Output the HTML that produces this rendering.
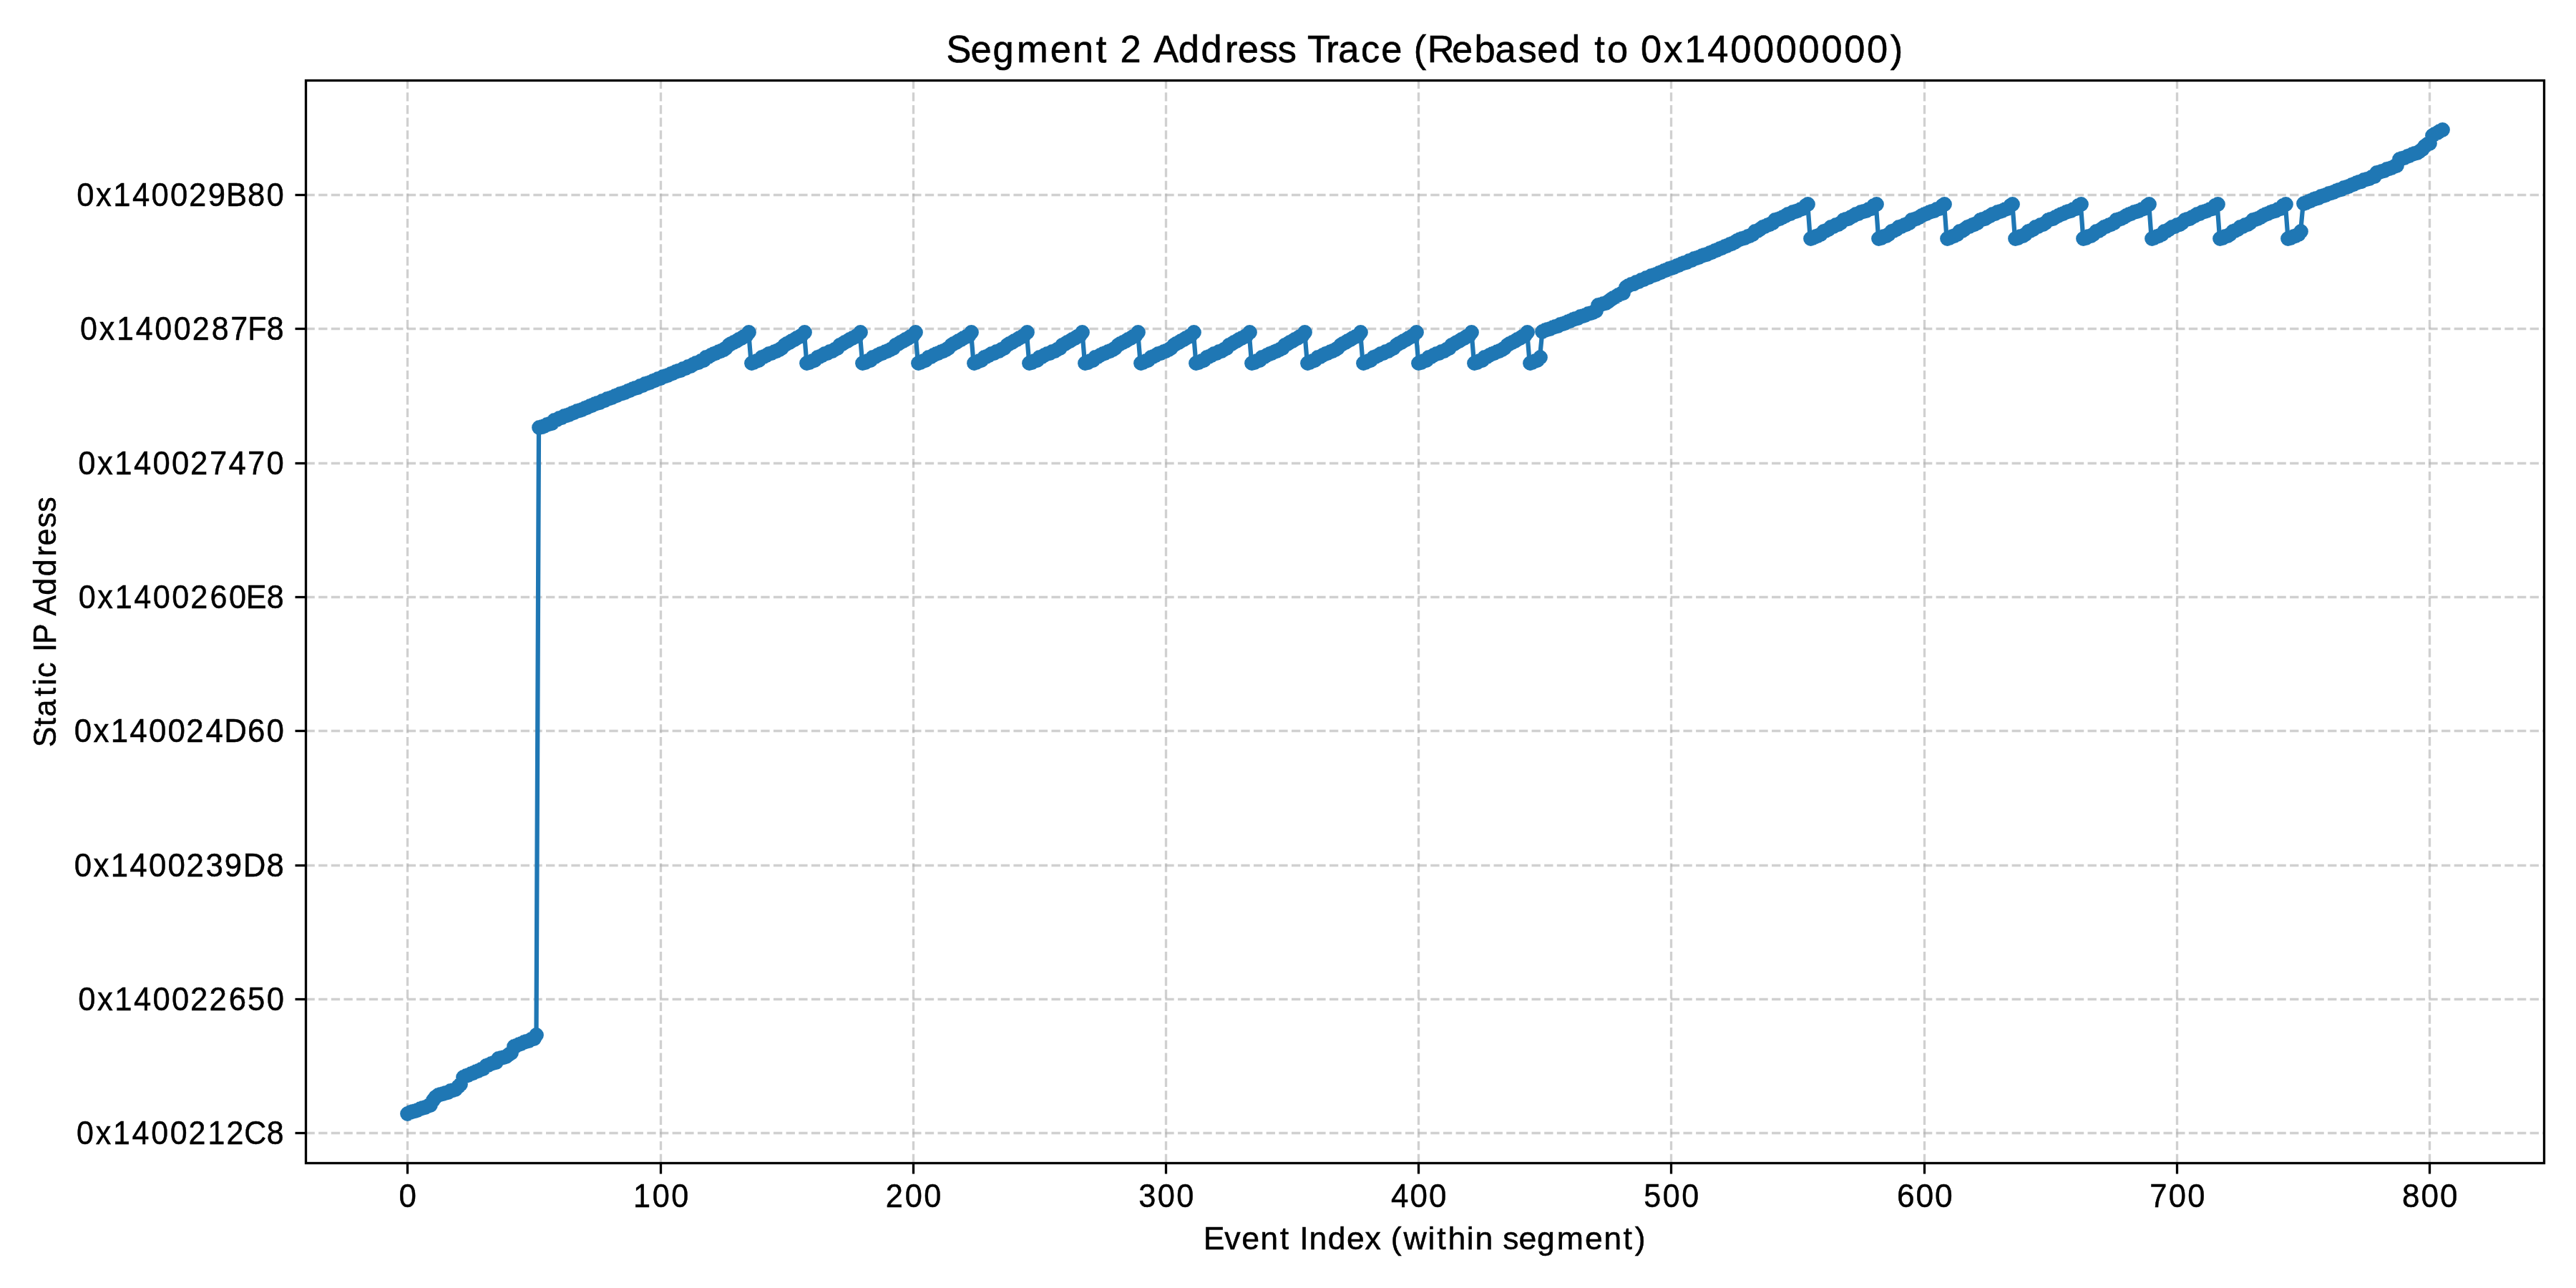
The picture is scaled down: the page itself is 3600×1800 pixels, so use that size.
<!DOCTYPE html>
<html><head><meta charset="utf-8"><title>Segment 2 Address Trace</title>
<style>html,body{margin:0;padding:0;background:#fff}body{width:3600px;height:1800px;overflow:hidden}svg{display:block;will-change:transform}text{font-family:"Liberation Sans",sans-serif;fill:#000}</style></head>
<body>
<svg width="3600" height="1800" viewBox="0 0 3600 1800">
<rect width="3600" height="1800" fill="#fff"/>
<g stroke="#b0b0b0" stroke-opacity="0.6" stroke-width="3.33" stroke-dasharray="12.33 5.33" fill="none">
<path d="M569.50 1625.00V112.50"/>
<path d="M923.50 1625.00V112.50"/>
<path d="M1276.50 1625.00V112.50"/>
<path d="M1629.50 1625.00V112.50"/>
<path d="M1982.50 1625.00V112.50"/>
<path d="M2335.50 1625.00V112.50"/>
<path d="M2689.50 1625.00V112.50"/>
<path d="M3042.50 1625.00V112.50"/>
<path d="M3395.50 1625.00V112.50"/>
<path d="M427.50 1583.50H3555.50"/>
<path d="M427.50 1396.50H3555.50"/>
<path d="M427.50 1209.50H3555.50"/>
<path d="M427.50 1021.50H3555.50"/>
<path d="M427.50 834.50H3555.50"/>
<path d="M427.50 647.50H3555.50"/>
<path d="M427.50 459.50H3555.50"/>
<path d="M427.50 272.50H3555.50"/>
</g>
<path d="M569.3 1556.3 L572.8 1555.0 L576.4 1553.7 L579.9 1552.4 L583.4 1551.1 L587.0 1549.7 L590.5 1548.4 L594.0 1547.1 L597.6 1545.8 L601.1 1544.5 L604.6 1537.0 L608.2 1533.1 L611.7 1530.8 L615.2 1529.6 L618.8 1528.5 L622.3 1527.3 L625.8 1526.1 L629.4 1524.9 L632.9 1523.8 L636.4 1522.6 L639.9 1518.7 L643.5 1515.8 L647.0 1505.3 L650.5 1503.8 L654.1 1502.3 L657.6 1500.8 L661.1 1499.2 L664.7 1497.7 L668.2 1496.2 L671.7 1494.7 L675.3 1493.2 L678.8 1489.3 L682.3 1488.0 L685.9 1486.7 L689.4 1485.4 L692.9 1484.1 L696.5 1479.8 L700.0 1478.6 L703.5 1477.5 L707.1 1476.3 L710.6 1473.6 L714.1 1471.4 L717.7 1462.4 L721.2 1461.0 L724.7 1459.7 L728.3 1458.3 L731.8 1457.0 L735.3 1455.6 L738.9 1454.2 L742.4 1452.9 L745.9 1451.5 L749.5 1446.7 L753.0 597.8 L756.5 596.4 L760.1 595.1 L763.6 593.7 L767.1 592.4 L770.7 591.0 L774.2 587.5 L777.7 586.1 L781.2 584.7 L784.8 583.3 L788.3 581.9 L791.8 580.5 L795.4 579.1 L798.9 577.6 L802.4 576.2 L806.0 574.8 L809.5 573.4 L813.0 572.0 L816.6 570.6 L820.1 569.2 L823.6 567.8 L827.2 566.4 L830.7 565.0 L834.2 563.6 L837.8 562.2 L841.3 560.8 L844.8 559.4 L848.4 557.9 L851.9 556.5 L855.4 555.1 L859.0 553.7 L862.5 552.3 L866.0 550.9 L869.6 549.5 L873.1 548.1 L876.6 546.7 L880.2 545.3 L883.7 543.9 L887.2 542.5 L890.8 541.1 L894.3 539.6 L897.8 538.2 L901.4 536.8 L904.9 535.4 L908.4 534.0 L912.0 532.6 L915.5 531.2 L919.0 529.8 L922.5 528.4 L926.1 527.0 L929.6 525.6 L933.1 524.2 L936.7 522.8 L940.2 521.4 L943.7 519.9 L947.3 518.5 L950.8 517.1 L954.3 515.7 L957.9 514.3 L961.4 512.9 L964.9 511.5 L968.5 509.8 L972.0 507.8 L975.5 506.3 L979.1 504.8 L982.6 503.1 L986.1 499.6 L989.7 498.1 L993.2 496.5 L996.7 494.9 L1000.3 493.3 L1003.8 491.7 L1007.3 490.1 L1010.9 488.5 L1014.4 486.6 L1017.9 482.0 L1021.5 480.0 L1025.0 478.3 L1028.5 476.5 L1032.1 474.7 L1035.6 472.9 L1039.1 470.9 L1042.7 468.3 L1046.2 464.6 L1049.7 507.8 L1053.3 506.3 L1056.8 504.8 L1060.3 503.1 L1063.8 499.6 L1067.4 498.1 L1070.9 496.5 L1074.4 494.9 L1078.0 493.3 L1081.5 491.7 L1085.0 490.1 L1088.6 488.5 L1092.1 486.6 L1095.6 482.0 L1099.2 480.0 L1102.7 478.3 L1106.2 476.5 L1109.8 474.7 L1113.3 472.9 L1116.8 470.9 L1120.4 468.3 L1123.9 464.6 L1127.4 507.8 L1131.0 506.3 L1134.5 504.8 L1138.0 503.1 L1141.6 499.6 L1145.1 498.1 L1148.6 496.5 L1152.2 494.9 L1155.7 493.3 L1159.2 491.7 L1162.8 490.1 L1166.3 488.5 L1169.8 486.6 L1173.4 482.0 L1176.9 480.0 L1180.4 478.3 L1184.0 476.5 L1187.5 474.7 L1191.0 472.9 L1194.6 470.9 L1198.1 468.3 L1201.6 464.6 L1205.2 507.8 L1208.7 506.3 L1212.2 504.8 L1215.7 503.1 L1219.3 499.6 L1222.8 498.1 L1226.3 496.5 L1229.9 494.9 L1233.4 493.3 L1236.9 491.7 L1240.5 490.1 L1244.0 488.5 L1247.5 486.6 L1251.1 482.0 L1254.6 480.0 L1258.1 478.3 L1261.7 476.5 L1265.2 474.7 L1268.7 472.9 L1272.3 470.9 L1275.8 468.3 L1279.3 464.6 L1282.9 507.8 L1286.4 506.3 L1289.9 504.8 L1293.5 503.1 L1297.0 499.6 L1300.5 498.1 L1304.1 496.5 L1307.6 494.9 L1311.1 493.3 L1314.7 491.7 L1318.2 490.1 L1321.7 488.5 L1325.3 486.6 L1328.8 482.0 L1332.3 480.0 L1335.9 478.3 L1339.4 476.5 L1342.9 474.7 L1346.5 472.9 L1350.0 470.9 L1353.5 468.3 L1357.0 464.6 L1360.6 507.8 L1364.1 506.3 L1367.6 504.8 L1371.2 503.1 L1374.7 499.6 L1378.2 498.1 L1381.8 496.5 L1385.3 494.9 L1388.8 493.3 L1392.4 491.7 L1395.9 490.1 L1399.4 488.5 L1403.0 486.6 L1406.5 482.0 L1410.0 480.0 L1413.6 478.3 L1417.1 476.5 L1420.6 474.7 L1424.2 472.9 L1427.7 470.9 L1431.2 468.3 L1434.8 464.6 L1438.3 507.8 L1441.8 506.3 L1445.4 504.8 L1448.9 503.1 L1452.4 499.6 L1456.0 498.1 L1459.5 496.5 L1463.0 494.9 L1466.6 493.3 L1470.1 491.7 L1473.6 490.1 L1477.2 488.5 L1480.7 486.6 L1484.2 482.0 L1487.8 480.0 L1491.3 478.3 L1494.8 476.5 L1498.3 474.7 L1501.9 472.9 L1505.4 470.9 L1508.9 468.3 L1512.5 464.6 L1516.0 507.8 L1519.5 506.3 L1523.1 504.8 L1526.6 503.1 L1530.1 499.6 L1533.7 498.1 L1537.2 496.5 L1540.7 494.9 L1544.3 493.3 L1547.8 491.7 L1551.3 490.1 L1554.9 488.5 L1558.4 486.6 L1561.9 482.0 L1565.5 480.0 L1569.0 478.3 L1572.5 476.5 L1576.1 474.7 L1579.6 472.9 L1583.1 470.9 L1586.7 468.3 L1590.2 464.6 L1593.7 507.8 L1597.3 506.3 L1600.8 504.8 L1604.3 503.1 L1607.9 499.6 L1611.4 498.1 L1614.9 496.5 L1618.5 494.9 L1622.0 493.3 L1625.5 491.7 L1629.0 490.1 L1632.6 488.5 L1636.1 486.6 L1639.6 482.0 L1643.2 480.0 L1646.7 478.3 L1650.2 476.5 L1653.8 474.7 L1657.3 472.9 L1660.8 470.9 L1664.4 468.3 L1667.9 464.6 L1671.4 507.8 L1675.0 506.3 L1678.5 504.8 L1682.0 503.1 L1685.6 499.6 L1689.1 498.1 L1692.6 496.5 L1696.2 494.9 L1699.7 493.3 L1703.2 491.7 L1706.8 490.1 L1710.3 488.5 L1713.8 486.6 L1717.4 482.0 L1720.9 480.0 L1724.4 478.3 L1728.0 476.5 L1731.5 474.7 L1735.0 472.9 L1738.6 470.9 L1742.1 468.3 L1745.6 464.6 L1749.2 507.8 L1752.7 506.3 L1756.2 504.8 L1759.8 503.1 L1763.3 499.6 L1766.8 498.1 L1770.3 496.5 L1773.9 494.9 L1777.4 493.3 L1780.9 491.7 L1784.5 490.1 L1788.0 488.5 L1791.5 486.6 L1795.1 482.0 L1798.6 480.0 L1802.1 478.3 L1805.7 476.5 L1809.2 474.7 L1812.7 472.9 L1816.3 470.9 L1819.8 468.3 L1823.3 464.6 L1826.9 507.8 L1830.4 506.3 L1833.9 504.8 L1837.5 503.1 L1841.0 499.6 L1844.5 498.1 L1848.1 496.5 L1851.6 494.9 L1855.1 493.3 L1858.7 491.7 L1862.2 490.1 L1865.7 488.5 L1869.3 486.6 L1872.8 482.0 L1876.3 480.0 L1879.9 478.3 L1883.4 476.5 L1886.9 474.7 L1890.5 472.9 L1894.0 470.9 L1897.5 468.3 L1901.1 464.6 L1904.6 507.8 L1908.1 506.3 L1911.7 504.8 L1915.2 503.1 L1918.7 499.6 L1922.2 498.1 L1925.8 496.5 L1929.3 494.9 L1932.8 493.3 L1936.4 491.7 L1939.9 490.1 L1943.4 488.5 L1947.0 486.6 L1950.5 482.0 L1954.0 480.0 L1957.6 478.3 L1961.1 476.5 L1964.6 474.7 L1968.2 472.9 L1971.7 470.9 L1975.2 468.3 L1978.8 464.6 L1982.3 507.8 L1985.8 506.3 L1989.4 504.8 L1992.9 503.1 L1996.4 499.6 L2000.0 498.1 L2003.5 496.5 L2007.0 494.9 L2010.6 493.3 L2014.1 491.7 L2017.6 490.1 L2021.2 488.5 L2024.7 486.6 L2028.2 482.0 L2031.8 480.0 L2035.3 478.3 L2038.8 476.5 L2042.4 474.7 L2045.9 472.9 L2049.4 470.9 L2052.9 468.3 L2056.5 464.6 L2060.0 507.8 L2063.5 506.3 L2067.1 504.8 L2070.6 503.1 L2074.1 499.6 L2077.7 498.1 L2081.2 496.5 L2084.7 494.9 L2088.3 493.3 L2091.8 491.7 L2095.3 490.1 L2098.9 488.5 L2102.4 486.6 L2105.9 482.0 L2109.5 480.0 L2113.0 478.3 L2116.5 476.5 L2120.1 474.7 L2123.6 472.9 L2127.1 470.9 L2130.7 468.3 L2134.2 464.6 L2137.7 507.8 L2141.3 506.3 L2144.8 504.8 L2148.3 503.1 L2151.9 499.6 L2155.4 463.1 L2158.9 461.8 L2162.5 460.4 L2166.0 459.1 L2169.5 457.7 L2173.1 456.4 L2176.6 455.0 L2180.1 453.7 L2183.7 452.4 L2187.2 451.0 L2190.7 449.7 L2194.2 448.3 L2197.8 447.0 L2201.3 445.6 L2204.8 444.3 L2208.4 443.0 L2211.9 441.6 L2215.4 440.3 L2219.0 438.9 L2222.5 437.6 L2226.0 436.2 L2229.6 434.9 L2233.1 426.2 L2236.6 425.4 L2240.2 424.5 L2243.7 423.0 L2247.2 421.3 L2250.8 418.5 L2254.3 416.0 L2257.8 414.0 L2261.4 412.2 L2264.9 410.8 L2268.4 409.5 L2272.0 401.0 L2275.5 399.2 L2279.0 397.5 L2282.6 396.1 L2286.1 394.6 L2289.6 393.2 L2293.2 391.7 L2296.7 390.3 L2300.2 388.8 L2303.8 387.4 L2307.3 385.9 L2310.8 384.5 L2314.4 383.1 L2317.9 381.6 L2321.4 380.2 L2325.0 378.7 L2328.5 377.3 L2332.0 375.8 L2335.6 374.4 L2339.1 373.0 L2342.6 371.6 L2346.1 370.2 L2349.7 368.8 L2353.2 367.5 L2356.7 366.1 L2360.3 364.7 L2363.8 363.3 L2367.3 361.9 L2370.9 360.5 L2374.4 359.1 L2377.9 357.7 L2381.5 356.4 L2385.0 355.0 L2388.5 353.7 L2392.1 352.2 L2395.6 350.7 L2399.1 349.3 L2402.7 347.8 L2406.2 346.3 L2409.7 344.8 L2413.3 343.3 L2416.8 341.9 L2420.3 340.4 L2423.9 338.9 L2427.4 336.6 L2430.9 334.9 L2434.5 333.5 L2438.0 332.2 L2441.5 330.8 L2445.1 329.5 L2448.6 327.6 L2452.1 323.8 L2455.7 322.1 L2459.2 320.2 L2462.7 317.7 L2466.3 316.2 L2469.8 314.8 L2473.3 313.3 L2476.9 311.6 L2480.4 307.7 L2483.9 306.3 L2487.4 305.0 L2491.0 303.6 L2494.5 301.9 L2498.0 299.3 L2501.6 298.2 L2505.1 296.9 L2508.6 295.4 L2512.2 294.0 L2515.7 292.6 L2519.2 291.2 L2522.8 287.5 L2526.3 285.4 L2529.8 333.5 L2533.4 332.2 L2536.9 330.8 L2540.4 329.5 L2544.0 327.6 L2547.5 323.8 L2551.0 322.1 L2554.6 320.2 L2558.1 317.7 L2561.6 316.2 L2565.2 314.8 L2568.7 313.3 L2572.2 311.6 L2575.8 307.7 L2579.3 306.3 L2582.8 305.0 L2586.4 303.6 L2589.9 301.9 L2593.4 299.3 L2597.0 298.2 L2600.5 296.9 L2604.0 295.4 L2607.6 294.0 L2611.1 292.6 L2614.6 291.2 L2618.1 287.5 L2621.7 285.4 L2625.2 333.5 L2628.7 332.2 L2632.3 330.8 L2635.8 329.5 L2639.3 327.6 L2642.9 323.8 L2646.4 322.1 L2649.9 320.2 L2653.5 317.7 L2657.0 316.2 L2660.5 314.8 L2664.1 313.3 L2667.6 311.6 L2671.1 307.7 L2674.7 306.3 L2678.2 305.0 L2681.7 303.6 L2685.3 301.9 L2688.8 299.3 L2692.3 298.2 L2695.9 296.9 L2699.4 295.4 L2702.9 294.0 L2706.5 292.6 L2710.0 291.2 L2713.5 287.5 L2717.1 285.4 L2720.6 333.5 L2724.1 332.2 L2727.7 330.8 L2731.2 329.5 L2734.7 327.6 L2738.3 323.8 L2741.8 322.1 L2745.3 320.2 L2748.9 317.7 L2752.4 316.2 L2755.9 314.8 L2759.4 313.3 L2763.0 311.6 L2766.5 307.7 L2770.0 306.3 L2773.6 305.0 L2777.1 303.6 L2780.6 301.9 L2784.2 299.3 L2787.7 298.2 L2791.2 296.9 L2794.8 295.4 L2798.3 294.0 L2801.8 292.6 L2805.4 291.2 L2808.9 287.5 L2812.4 285.4 L2816.0 333.5 L2819.5 332.2 L2823.0 330.8 L2826.6 329.5 L2830.1 327.6 L2833.6 323.8 L2837.2 322.1 L2840.7 320.2 L2844.2 317.7 L2847.8 316.2 L2851.3 314.8 L2854.8 313.3 L2858.4 311.6 L2861.9 307.7 L2865.4 306.3 L2869.0 305.0 L2872.5 303.6 L2876.0 301.9 L2879.6 299.3 L2883.1 298.2 L2886.6 296.9 L2890.2 295.4 L2893.7 294.0 L2897.2 292.6 L2900.8 291.2 L2904.3 287.5 L2907.8 285.4 L2911.3 333.5 L2914.9 332.2 L2918.4 330.8 L2921.9 329.5 L2925.5 327.6 L2929.0 323.8 L2932.5 322.1 L2936.1 320.2 L2939.6 317.7 L2943.1 316.2 L2946.7 314.8 L2950.2 313.3 L2953.7 311.6 L2957.3 307.7 L2960.8 306.3 L2964.3 305.0 L2967.9 303.6 L2971.4 301.9 L2974.9 299.3 L2978.5 298.2 L2982.0 296.9 L2985.5 295.4 L2989.1 294.0 L2992.6 292.6 L2996.1 291.2 L2999.7 287.5 L3003.2 285.4 L3006.7 333.5 L3010.3 332.2 L3013.8 330.8 L3017.3 329.5 L3020.9 327.6 L3024.4 323.8 L3027.9 322.1 L3031.5 320.2 L3035.0 317.7 L3038.5 316.2 L3042.1 314.8 L3045.6 313.3 L3049.1 311.6 L3052.6 307.7 L3056.2 306.3 L3059.7 305.0 L3063.2 303.6 L3066.8 301.9 L3070.3 299.3 L3073.8 298.2 L3077.4 296.9 L3080.9 295.4 L3084.4 294.0 L3088.0 292.6 L3091.5 291.2 L3095.0 287.5 L3098.6 285.4 L3102.1 333.5 L3105.6 332.2 L3109.2 330.8 L3112.7 329.5 L3116.2 327.6 L3119.8 323.8 L3123.3 322.1 L3126.8 320.2 L3130.4 317.7 L3133.9 316.2 L3137.4 314.8 L3141.0 313.3 L3144.5 311.6 L3148.0 307.7 L3151.6 306.3 L3155.1 305.0 L3158.6 303.6 L3162.2 301.9 L3165.7 299.3 L3169.2 298.2 L3172.8 296.9 L3176.3 295.4 L3179.8 294.0 L3183.4 292.6 L3186.9 291.2 L3190.4 287.5 L3193.9 285.4 L3197.5 333.5 L3201.0 332.2 L3204.5 330.8 L3208.1 329.5 L3211.6 327.6 L3215.1 323.8 L3218.7 284.4 L3222.2 283.0 L3225.7 281.7 L3229.3 280.3 L3232.8 279.0 L3236.3 277.6 L3239.9 276.3 L3243.4 274.9 L3246.9 273.6 L3250.5 272.2 L3254.0 270.9 L3257.5 269.5 L3261.1 268.2 L3264.6 266.8 L3268.1 265.4 L3271.7 264.1 L3275.2 262.7 L3278.7 261.4 L3282.3 260.0 L3285.8 258.7 L3289.3 257.3 L3292.9 256.0 L3296.4 254.6 L3299.9 253.3 L3303.5 251.9 L3307.0 250.6 L3310.5 249.2 L3314.1 247.9 L3317.6 246.5 L3321.1 241.7 L3324.7 240.7 L3328.2 239.4 L3331.7 238.1 L3335.2 236.8 L3338.8 235.5 L3342.3 234.2 L3345.8 232.9 L3349.4 231.0 L3352.9 222.9 L3356.4 221.5 L3360.0 220.1 L3363.5 218.7 L3367.0 217.2 L3370.6 215.8 L3374.1 214.4 L3377.6 213.0 L3381.2 211.6 L3384.7 208.8 L3388.2 204.8 L3391.8 201.7 L3395.3 200.0 L3398.8 189.7 L3402.4 187.8 L3405.9 185.8 L3409.4 183.7 L3413.0 181.3" fill="none" stroke="#1f77b4" stroke-width="6.25" stroke-linejoin="round" stroke-linecap="butt"/>
<path d="M569.5 1556.5h.01M573.5 1554.5h.01M576.5 1553.5h.01M580.5 1552.5h.01M583.5 1551.5h.01M587.5 1549.5h.01M590.5 1548.5h.01M594.5 1547.5h.01M598.5 1545.5h.01M601.5 1544.5h.01M605.5 1537.5h.01M608.5 1533.5h.01M612.5 1530.5h.01M615.5 1529.5h.01M619.5 1528.5h.01M622.5 1527.5h.01M626.5 1526.5h.01M629.5 1524.5h.01M633.5 1523.5h.01M636.5 1522.5h.01M640.5 1518.5h.01M643.5 1515.5h.01M647.5 1505.5h.01M651.5 1503.5h.01M654.5 1502.5h.01M658.5 1500.5h.01M661.5 1499.5h.01M665.5 1497.5h.01M668.5 1496.5h.01M672.5 1494.5h.01M675.5 1493.5h.01M679.5 1489.5h.01M682.5 1488.5h.01M686.5 1486.5h.01M689.5 1485.5h.01M693.5 1484.5h.01M696.5 1479.5h.01M700.5 1478.5h.01M704.5 1477.5h.01M707.5 1476.5h.01M711.5 1473.5h.01M714.5 1471.5h.01M718.5 1462.5h.01M721.5 1461.5h.01M725.5 1459.5h.01M728.5 1458.5h.01M732.5 1456.5h.01M735.5 1455.5h.01M739.5 1454.5h.01M742.5 1452.5h.01M746.5 1451.5h.01M749.5 1446.5h.01M753.5 597.5h.01M757.5 596.5h.01M760.5 595.5h.01M764.5 593.5h.01M767.5 592.5h.01M771.5 591.5h.01M774.5 587.5h.01M778.5 586.5h.01M781.5 584.5h.01M785.5 583.5h.01M788.5 581.5h.01M792.5 580.5h.01M795.5 579.5h.01M799.5 577.5h.01M802.5 576.5h.01M806.5 574.5h.01M810.5 573.5h.01M813.5 572.5h.01M817.5 570.5h.01M820.5 569.5h.01M824.5 567.5h.01M827.5 566.5h.01M831.5 564.5h.01M834.5 563.5h.01M838.5 562.5h.01M841.5 560.5h.01M845.5 559.5h.01M848.5 557.5h.01M852.5 556.5h.01M855.5 555.5h.01M859.5 553.5h.01M862.5 552.5h.01M866.5 550.5h.01M870.5 549.5h.01M873.5 548.5h.01M877.5 546.5h.01M880.5 545.5h.01M884.5 543.5h.01M887.5 542.5h.01M891.5 541.5h.01M894.5 539.5h.01M898.5 538.5h.01M901.5 536.5h.01M905.5 535.5h.01M908.5 534.5h.01M912.5 532.5h.01M915.5 531.5h.01M919.5 529.5h.01M923.5 528.5h.01M926.5 526.5h.01M930.5 525.5h.01M933.5 524.5h.01M937.5 522.5h.01M940.5 521.5h.01M944.5 519.5h.01M947.5 518.5h.01M951.5 517.5h.01M954.5 515.5h.01M958.5 514.5h.01M961.5 512.5h.01M965.5 511.5h.01M968.5 509.5h.01M972.5 507.5h.01M976.5 506.5h.01M979.5 504.5h.01M983.5 503.5h.01M986.5 499.5h.01M990.5 498.5h.01M993.5 496.5h.01M997.5 494.5h.01M1000.5 493.5h.01M1004.5 491.5h.01M1007.5 490.5h.01M1011.5 488.5h.01M1014.5 486.5h.01M1018.5 482.5h.01M1021.5 480.5h.01M1025.5 478.5h.01M1029.5 476.5h.01M1032.5 474.5h.01M1036.5 472.5h.01M1039.5 470.5h.01M1043.5 468.5h.01M1046.5 464.5h.01M1050.5 507.5h.01M1053.5 506.5h.01M1057.5 504.5h.01M1060.5 503.5h.01M1064.5 499.5h.01M1067.5 498.5h.01M1071.5 496.5h.01M1074.5 494.5h.01M1078.5 493.5h.01M1082.5 491.5h.01M1085.5 490.5h.01M1089.5 488.5h.01M1092.5 486.5h.01M1096.5 482.5h.01M1099.5 480.5h.01M1103.5 478.5h.01M1106.5 476.5h.01M1110.5 474.5h.01M1113.5 472.5h.01M1117.5 470.5h.01M1120.5 468.5h.01M1124.5 464.5h.01M1127.5 507.5h.01M1131.5 506.5h.01M1135.5 504.5h.01M1138.5 503.5h.01M1142.5 499.5h.01M1145.5 498.5h.01M1149.5 496.5h.01M1152.5 494.5h.01M1156.5 493.5h.01M1159.5 491.5h.01M1163.5 490.5h.01M1166.5 488.5h.01M1170.5 486.5h.01M1173.5 482.5h.01M1177.5 480.5h.01M1180.5 478.5h.01M1184.5 476.5h.01M1187.5 474.5h.01M1191.5 472.5h.01M1195.5 470.5h.01M1198.5 468.5h.01M1202.5 464.5h.01M1205.5 507.5h.01M1209.5 506.5h.01M1212.5 504.5h.01M1216.5 503.5h.01M1219.5 499.5h.01M1223.5 498.5h.01M1226.5 496.5h.01M1230.5 494.5h.01M1233.5 493.5h.01M1237.5 491.5h.01M1240.5 490.5h.01M1244.5 488.5h.01M1248.5 486.5h.01M1251.5 482.5h.01M1255.5 480.5h.01M1258.5 478.5h.01M1262.5 476.5h.01M1265.5 474.5h.01M1269.5 472.5h.01M1272.5 470.5h.01M1276.5 468.5h.01M1279.5 464.5h.01M1283.5 507.5h.01M1286.5 506.5h.01M1290.5 504.5h.01M1293.5 503.5h.01M1297.5 499.5h.01M1301.5 498.5h.01M1304.5 496.5h.01M1308.5 494.5h.01M1311.5 493.5h.01M1315.5 491.5h.01M1318.5 490.5h.01M1322.5 488.5h.01M1325.5 486.5h.01M1329.5 482.5h.01M1332.5 480.5h.01M1336.5 478.5h.01M1339.5 476.5h.01M1343.5 474.5h.01M1346.5 472.5h.01M1350.5 470.5h.01M1354.5 468.5h.01M1357.5 464.5h.01M1361.5 507.5h.01M1364.5 506.5h.01M1368.5 504.5h.01M1371.5 503.5h.01M1375.5 499.5h.01M1378.5 498.5h.01M1382.5 496.5h.01M1385.5 494.5h.01M1389.5 493.5h.01M1392.5 491.5h.01M1396.5 490.5h.01M1399.5 488.5h.01M1403.5 486.5h.01M1407.5 482.5h.01M1410.5 480.5h.01M1414.5 478.5h.01M1417.5 476.5h.01M1421.5 474.5h.01M1424.5 472.5h.01M1428.5 470.5h.01M1431.5 468.5h.01M1435.5 464.5h.01M1438.5 507.5h.01M1442.5 506.5h.01M1445.5 504.5h.01M1449.5 503.5h.01M1452.5 499.5h.01M1456.5 498.5h.01M1459.5 496.5h.01M1463.5 494.5h.01M1467.5 493.5h.01M1470.5 491.5h.01M1474.5 490.5h.01M1477.5 488.5h.01M1481.5 486.5h.01M1484.5 482.5h.01M1488.5 480.5h.01M1491.5 478.5h.01M1495.5 476.5h.01M1498.5 474.5h.01M1502.5 472.5h.01M1505.5 470.5h.01M1509.5 468.5h.01M1512.5 464.5h.01M1516.5 507.5h.01M1520.5 506.5h.01M1523.5 504.5h.01M1527.5 503.5h.01M1530.5 499.5h.01M1534.5 498.5h.01M1537.5 496.5h.01M1541.5 494.5h.01M1544.5 493.5h.01M1548.5 491.5h.01M1551.5 490.5h.01M1555.5 488.5h.01M1558.5 486.5h.01M1562.5 482.5h.01M1565.5 480.5h.01M1569.5 478.5h.01M1573.5 476.5h.01M1576.5 474.5h.01M1580.5 472.5h.01M1583.5 470.5h.01M1587.5 468.5h.01M1590.5 464.5h.01M1594.5 507.5h.01M1597.5 506.5h.01M1601.5 504.5h.01M1604.5 503.5h.01M1608.5 499.5h.01M1611.5 498.5h.01M1615.5 496.5h.01M1618.5 494.5h.01M1622.5 493.5h.01M1626.5 491.5h.01M1629.5 490.5h.01M1633.5 488.5h.01M1636.5 486.5h.01M1640.5 482.5h.01M1643.5 480.5h.01M1647.5 478.5h.01M1650.5 476.5h.01M1654.5 474.5h.01M1657.5 472.5h.01M1661.5 470.5h.01M1664.5 468.5h.01M1668.5 464.5h.01M1671.5 507.5h.01M1675.5 506.5h.01M1679.5 504.5h.01M1682.5 503.5h.01M1686.5 499.5h.01M1689.5 498.5h.01M1693.5 496.5h.01M1696.5 494.5h.01M1700.5 493.5h.01M1703.5 491.5h.01M1707.5 490.5h.01M1710.5 488.5h.01M1714.5 486.5h.01M1717.5 482.5h.01M1721.5 480.5h.01M1724.5 478.5h.01M1728.5 476.5h.01M1731.5 474.5h.01M1735.5 472.5h.01M1739.5 470.5h.01M1742.5 468.5h.01M1746.5 464.5h.01M1749.5 507.5h.01M1753.5 506.5h.01M1756.5 504.5h.01M1760.5 503.5h.01M1763.5 499.5h.01M1767.5 498.5h.01M1770.5 496.5h.01M1774.5 494.5h.01M1777.5 493.5h.01M1781.5 491.5h.01M1784.5 490.5h.01M1788.5 488.5h.01M1792.5 486.5h.01M1795.5 482.5h.01M1799.5 480.5h.01M1802.5 478.5h.01M1806.5 476.5h.01M1809.5 474.5h.01M1813.5 472.5h.01M1816.5 470.5h.01M1820.5 468.5h.01M1823.5 464.5h.01M1827.5 507.5h.01M1830.5 506.5h.01M1834.5 504.5h.01M1837.5 503.5h.01M1841.5 499.5h.01M1845.5 498.5h.01M1848.5 496.5h.01M1852.5 494.5h.01M1855.5 493.5h.01M1859.5 491.5h.01M1862.5 490.5h.01M1866.5 488.5h.01M1869.5 486.5h.01M1873.5 482.5h.01M1876.5 480.5h.01M1880.5 478.5h.01M1883.5 476.5h.01M1887.5 474.5h.01M1890.5 472.5h.01M1894.5 470.5h.01M1898.5 468.5h.01M1901.5 464.5h.01M1905.5 507.5h.01M1908.5 506.5h.01M1912.5 504.5h.01M1915.5 503.5h.01M1919.5 499.5h.01M1922.5 498.5h.01M1926.5 496.5h.01M1929.5 494.5h.01M1933.5 493.5h.01M1936.5 491.5h.01M1940.5 490.5h.01M1943.5 488.5h.01M1947.5 486.5h.01M1951.5 482.5h.01M1954.5 480.5h.01M1958.5 478.5h.01M1961.5 476.5h.01M1965.5 474.5h.01M1968.5 472.5h.01M1972.5 470.5h.01M1975.5 468.5h.01M1979.5 464.5h.01M1982.5 507.5h.01M1986.5 506.5h.01M1989.5 504.5h.01M1993.5 503.5h.01M1996.5 499.5h.01M2000.5 498.5h.01M2003.5 496.5h.01M2007.5 494.5h.01M2011.5 493.5h.01M2014.5 491.5h.01M2018.5 490.5h.01M2021.5 488.5h.01M2025.5 486.5h.01M2028.5 482.5h.01M2032.5 480.5h.01M2035.5 478.5h.01M2039.5 476.5h.01M2042.5 474.5h.01M2046.5 472.5h.01M2049.5 470.5h.01M2053.5 468.5h.01M2056.5 464.5h.01M2060.5 507.5h.01M2064.5 506.5h.01M2067.5 504.5h.01M2071.5 503.5h.01M2074.5 499.5h.01M2078.5 498.5h.01M2081.5 496.5h.01M2085.5 494.5h.01M2088.5 493.5h.01M2092.5 491.5h.01M2095.5 490.5h.01M2099.5 488.5h.01M2102.5 486.5h.01M2106.5 482.5h.01M2109.5 480.5h.01M2113.5 478.5h.01M2117.5 476.5h.01M2120.5 474.5h.01M2124.5 472.5h.01M2127.5 470.5h.01M2131.5 468.5h.01M2134.5 464.5h.01M2138.5 507.5h.01M2141.5 506.5h.01M2145.5 504.5h.01M2148.5 503.5h.01M2152.5 499.5h.01M2155.5 463.5h.01M2159.5 461.5h.01M2162.5 460.5h.01M2166.5 459.5h.01M2170.5 457.5h.01M2173.5 456.5h.01M2177.5 455.5h.01M2180.5 453.5h.01M2184.5 452.5h.01M2187.5 451.5h.01M2191.5 449.5h.01M2194.5 448.5h.01M2198.5 446.5h.01M2201.5 445.5h.01M2205.5 444.5h.01M2208.5 442.5h.01M2212.5 441.5h.01M2215.5 440.5h.01M2219.5 438.5h.01M2223.5 437.5h.01M2226.5 436.5h.01M2230.5 434.5h.01M2233.5 426.5h.01M2237.5 425.5h.01M2240.5 424.5h.01M2244.5 423.5h.01M2247.5 421.5h.01M2251.5 418.5h.01M2254.5 416.5h.01M2258.5 414.5h.01M2261.5 412.5h.01M2265.5 410.5h.01M2268.5 409.5h.01M2272.5 401.5h.01M2275.5 399.5h.01M2279.5 397.5h.01M2283.5 396.5h.01M2286.5 394.5h.01M2290.5 393.5h.01M2293.5 391.5h.01M2297.5 390.5h.01M2300.5 388.5h.01M2304.5 387.5h.01M2307.5 385.5h.01M2311.5 384.5h.01M2314.5 383.5h.01M2318.5 381.5h.01M2321.5 380.5h.01M2325.5 378.5h.01M2328.5 377.5h.01M2332.5 375.5h.01M2336.5 374.5h.01M2339.5 373.5h.01M2343.5 371.5h.01M2346.5 370.5h.01M2350.5 368.5h.01M2353.5 367.5h.01M2357.5 366.5h.01M2360.5 364.5h.01M2364.5 363.5h.01M2367.5 361.5h.01M2371.5 360.5h.01M2374.5 359.5h.01M2378.5 357.5h.01M2381.5 356.5h.01M2385.5 355.5h.01M2389.5 353.5h.01M2392.5 352.5h.01M2396.5 350.5h.01M2399.5 349.5h.01M2403.5 347.5h.01M2406.5 346.5h.01M2410.5 344.5h.01M2413.5 343.5h.01M2417.5 341.5h.01M2420.5 340.5h.01M2424.5 338.5h.01M2427.5 336.5h.01M2431.5 334.5h.01M2434.5 333.5h.01M2438.5 332.5h.01M2442.5 330.5h.01M2445.5 329.5h.01M2449.5 327.5h.01M2452.5 323.5h.01M2456.5 322.5h.01M2459.5 320.5h.01M2463.5 317.5h.01M2466.5 316.5h.01M2470.5 314.5h.01M2473.5 313.5h.01M2477.5 311.5h.01M2480.5 307.5h.01M2484.5 306.5h.01M2487.5 305.5h.01M2491.5 303.5h.01M2495.5 301.5h.01M2498.5 299.5h.01M2502.5 298.5h.01M2505.5 296.5h.01M2509.5 295.5h.01M2512.5 294.5h.01M2516.5 292.5h.01M2519.5 291.5h.01M2523.5 287.5h.01M2526.5 285.5h.01M2530.5 333.5h.01M2533.5 332.5h.01M2537.5 330.5h.01M2540.5 329.5h.01M2544.5 327.5h.01M2548.5 323.5h.01M2551.5 322.5h.01M2555.5 320.5h.01M2558.5 317.5h.01M2562.5 316.5h.01M2565.5 314.5h.01M2569.5 313.5h.01M2572.5 311.5h.01M2576.5 307.5h.01M2579.5 306.5h.01M2583.5 305.5h.01M2586.5 303.5h.01M2590.5 301.5h.01M2593.5 299.5h.01M2597.5 298.5h.01M2600.5 296.5h.01M2604.5 295.5h.01M2608.5 294.5h.01M2611.5 292.5h.01M2615.5 291.5h.01M2618.5 287.5h.01M2622.5 285.5h.01M2625.5 333.5h.01M2629.5 332.5h.01M2632.5 330.5h.01M2636.5 329.5h.01M2639.5 327.5h.01M2643.5 323.5h.01M2646.5 322.5h.01M2650.5 320.5h.01M2653.5 317.5h.01M2657.5 316.5h.01M2661.5 314.5h.01M2664.5 313.5h.01M2668.5 311.5h.01M2671.5 307.5h.01M2675.5 306.5h.01M2678.5 305.5h.01M2682.5 303.5h.01M2685.5 301.5h.01M2689.5 299.5h.01M2692.5 298.5h.01M2696.5 296.5h.01M2699.5 295.5h.01M2703.5 294.5h.01M2706.5 292.5h.01M2710.5 291.5h.01M2714.5 287.5h.01M2717.5 285.5h.01M2721.5 333.5h.01M2724.5 332.5h.01M2728.5 330.5h.01M2731.5 329.5h.01M2735.5 327.5h.01M2738.5 323.5h.01M2742.5 322.5h.01M2745.5 320.5h.01M2749.5 317.5h.01M2752.5 316.5h.01M2756.5 314.5h.01M2759.5 313.5h.01M2763.5 311.5h.01M2767.5 307.5h.01M2770.5 306.5h.01M2774.5 305.5h.01M2777.5 303.5h.01M2781.5 301.5h.01M2784.5 299.5h.01M2788.5 298.5h.01M2791.5 296.5h.01M2795.5 295.5h.01M2798.5 294.5h.01M2802.5 292.5h.01M2805.5 291.5h.01M2809.5 287.5h.01M2812.5 285.5h.01M2816.5 333.5h.01M2820.5 332.5h.01M2823.5 330.5h.01M2827.5 329.5h.01M2830.5 327.5h.01M2834.5 323.5h.01M2837.5 322.5h.01M2841.5 320.5h.01M2844.5 317.5h.01M2848.5 316.5h.01M2851.5 314.5h.01M2855.5 313.5h.01M2858.5 311.5h.01M2862.5 307.5h.01M2865.5 306.5h.01M2869.5 305.5h.01M2872.5 303.5h.01M2876.5 301.5h.01M2880.5 299.5h.01M2883.5 298.5h.01M2887.5 296.5h.01M2890.5 295.5h.01M2894.5 294.5h.01M2897.5 292.5h.01M2901.5 291.5h.01M2904.5 287.5h.01M2908.5 285.5h.01M2911.5 333.5h.01M2915.5 332.5h.01M2918.5 330.5h.01M2922.5 329.5h.01M2925.5 327.5h.01M2929.5 323.5h.01M2933.5 322.5h.01M2936.5 320.5h.01M2940.5 317.5h.01M2943.5 316.5h.01M2947.5 314.5h.01M2950.5 313.5h.01M2954.5 311.5h.01M2957.5 307.5h.01M2961.5 306.5h.01M2964.5 305.5h.01M2968.5 303.5h.01M2971.5 301.5h.01M2975.5 299.5h.01M2978.5 298.5h.01M2982.5 296.5h.01M2986.5 295.5h.01M2989.5 294.5h.01M2993.5 292.5h.01M2996.5 291.5h.01M3000.5 287.5h.01M3003.5 285.5h.01M3007.5 333.5h.01M3010.5 332.5h.01M3014.5 330.5h.01M3017.5 329.5h.01M3021.5 327.5h.01M3024.5 323.5h.01M3028.5 322.5h.01M3031.5 320.5h.01M3035.5 317.5h.01M3039.5 316.5h.01M3042.5 314.5h.01M3046.5 313.5h.01M3049.5 311.5h.01M3053.5 307.5h.01M3056.5 306.5h.01M3060.5 305.5h.01M3063.5 303.5h.01M3067.5 301.5h.01M3070.5 299.5h.01M3074.5 298.5h.01M3077.5 296.5h.01M3081.5 295.5h.01M3084.5 294.5h.01M3088.5 292.5h.01M3092.5 291.5h.01M3095.5 287.5h.01M3099.5 285.5h.01M3102.5 333.5h.01M3106.5 332.5h.01M3109.5 330.5h.01M3113.5 329.5h.01M3116.5 327.5h.01M3120.5 323.5h.01M3123.5 322.5h.01M3127.5 320.5h.01M3130.5 317.5h.01M3134.5 316.5h.01M3137.5 314.5h.01M3141.5 313.5h.01M3144.5 311.5h.01M3148.5 307.5h.01M3152.5 306.5h.01M3155.5 305.5h.01M3159.5 303.5h.01M3162.5 301.5h.01M3166.5 299.5h.01M3169.5 298.5h.01M3173.5 296.5h.01M3176.5 295.5h.01M3180.5 294.5h.01M3183.5 292.5h.01M3187.5 291.5h.01M3190.5 287.5h.01M3194.5 285.5h.01M3197.5 333.5h.01M3201.5 332.5h.01M3205.5 330.5h.01M3208.5 329.5h.01M3212.5 327.5h.01M3215.5 323.5h.01M3219.5 284.5h.01M3222.5 283.5h.01M3226.5 281.5h.01M3229.5 280.5h.01M3233.5 278.5h.01M3236.5 277.5h.01M3240.5 276.5h.01M3243.5 274.5h.01M3247.5 273.5h.01M3250.5 272.5h.01M3254.5 270.5h.01M3258.5 269.5h.01M3261.5 268.5h.01M3265.5 266.5h.01M3268.5 265.5h.01M3272.5 264.5h.01M3275.5 262.5h.01M3279.5 261.5h.01M3282.5 260.5h.01M3286.5 258.5h.01M3289.5 257.5h.01M3293.5 255.5h.01M3296.5 254.5h.01M3300.5 253.5h.01M3303.5 251.5h.01M3307.5 250.5h.01M3311.5 249.5h.01M3314.5 247.5h.01M3318.5 246.5h.01M3321.5 241.5h.01M3325.5 240.5h.01M3328.5 239.5h.01M3332.5 238.5h.01M3335.5 236.5h.01M3339.5 235.5h.01M3342.5 234.5h.01M3346.5 232.5h.01M3349.5 231.5h.01M3353.5 222.5h.01M3356.5 221.5h.01M3360.5 220.5h.01M3364.5 218.5h.01M3367.5 217.5h.01M3371.5 215.5h.01M3374.5 214.5h.01M3378.5 213.5h.01M3381.5 211.5h.01M3385.5 208.5h.01M3388.5 204.5h.01M3392.5 201.5h.01M3395.5 200.5h.01M3399.5 189.5h.01M3402.5 187.5h.01M3406.5 185.5h.01M3409.5 183.5h.01M3413.5 181.5h.01" fill="none" stroke="#1f77b4" stroke-width="20.8" stroke-linecap="round"/>
<g stroke="#000" stroke-width="3.3" fill="none">
<path d="M569.50 1625.50v15"/>
<path d="M923.50 1625.50v15"/>
<path d="M1276.50 1625.50v15"/>
<path d="M1629.50 1625.50v15"/>
<path d="M1982.50 1625.50v15"/>
<path d="M2335.50 1625.50v15"/>
<path d="M2689.50 1625.50v15"/>
<path d="M3042.50 1625.50v15"/>
<path d="M3395.50 1625.50v15"/>
<path d="M427.50 1583.50h-15"/>
<path d="M427.50 1396.50h-15"/>
<path d="M427.50 1209.50h-15"/>
<path d="M427.50 1021.50h-15"/>
<path d="M427.50 834.50h-15"/>
<path d="M427.50 647.50h-15"/>
<path d="M427.50 459.50h-15"/>
<path d="M427.50 272.50h-15"/>
</g>
<rect x="427.50" y="112.50" width="3128.00" height="1513.00" fill="none" stroke="#000" stroke-width="3.33" stroke-linejoin="miter"/>
<text transform="translate(1323.97,87.40) scale(0.9843,1)" font-size="53.25" stroke="#000" stroke-width="0.60" x="-1.39 33.15 64.49 98.47 146.13 177.89 211.18 228.59 245.39 277.06 292.77 328.06 360.30 394.13 412.22 442.79 469.26 495.50 510.97 537.79 554.92 587.23 616.06 646.41 662.21 681.57 716.30 748.22 777.70 810.24 837.39 868.73 899.98 918.63 936.76 967.12 984.62 1017.19 1046.78 1079.26 1111.64 1143.96 1176.28 1208.60 1240.92 1273.24 1305.56 1338.85">Segment 2 Address Trace (Rebased to 0x140000000)</text>
<text transform="translate(1683.76,1746.10) scale(1.0054,1)" font-size="44.38" stroke="#000" stroke-width="0.50" x="-1.92 27.37 51.19 77.10 104.39 118.73 131.86 145.02 170.95 197.18 222.54 245.99 258.70 276.25 310.05 322.66 337.83 364.08 375.67 401.05 414.17 436.30 461.87 489.45 528.47 554.38 581.67 597.77">Event Index (within segment)</text>
<text transform="translate(77.60,1043.50) rotate(-90) scale(0.9660,1)" font-size="44.38" stroke="#000" stroke-width="0.50" x="-0.90 29.63 43.54 72.98 88.69 99.84 123.34 137.26 148.69 175.78 189.41 219.32 246.70 275.36 290.80 316.73 339.20">Static IP Address</text>
<text transform="translate(556.54,1687.40) scale(0.9564,1)" font-size="45.83" stroke="#000" stroke-width="0.50" x="1.11">0</text>
<text transform="translate(884.03,1687.40) scale(0.9434,1)" font-size="45.83" stroke="#000" stroke-width="0.50" x="1.12 29.41 57.51">100</text>
<text transform="translate(1237.03,1687.40) scale(0.9460,1)" font-size="45.83" stroke="#000" stroke-width="0.50" x="0.66 29.29 57.32">200</text>
<text transform="translate(1590.03,1687.40) scale(0.9455,1)" font-size="45.83" stroke="#000" stroke-width="0.50" x="1.33 29.31 57.35">300</text>
<text transform="translate(1943.03,1687.40) scale(0.9572,1)" font-size="45.83" stroke="#000" stroke-width="0.50" x="1.05 28.80 56.50">400</text>
<text transform="translate(2296.03,1687.40) scale(0.9392,1)" font-size="45.83" stroke="#000" stroke-width="0.50" x="1.20 29.59 57.82">500</text>
<text transform="translate(2650.03,1687.40) scale(0.9682,1)" font-size="45.83" stroke="#000" stroke-width="0.50" x="0.99 28.33 55.71">600</text>
<text transform="translate(3003.03,1687.40) scale(0.9492,1)" font-size="45.83" stroke="#000" stroke-width="0.50" x="1.16 29.15 57.08">700</text>
<text transform="translate(3356.03,1687.40) scale(0.9599,1)" font-size="45.83" stroke="#000" stroke-width="0.50" x="1.06 28.68 56.30">800</text>
<text transform="translate(105.65,1599.40) scale(0.9365,1)" font-size="45.83" stroke="#000" stroke-width="0.50" x="1.41 29.92 55.86 84.30 112.66 140.97 168.67 197.40 225.28 251.53 285.27">0x1400212C8</text>
<text transform="translate(108.24,1412.05) scale(0.9507,1)" font-size="45.83" stroke="#000" stroke-width="0.50" x="1.20 29.30 54.83 82.85 110.79 138.67 165.95 193.84 222.38 250.05 278.10">0x140022650</text>
<text transform="translate(102.66,1224.70) scale(0.9549,1)" font-size="45.83" stroke="#000" stroke-width="0.50" x="1.14 29.12 54.53 82.44 110.25 138.01 165.18 193.60 221.14 248.25 282.67">0x1400239D8</text>
<text transform="translate(102.66,1037.35) scale(0.9571,1)" font-size="45.83" stroke="#000" stroke-width="0.50" x="1.10 29.03 54.37 82.22 109.97 137.67 164.77 193.02 219.94 254.34 281.99">0x140024D60</text>
<text transform="translate(108.42,850.00) scale(0.9419,1)" font-size="45.83" stroke="#000" stroke-width="0.50" x="1.33 29.68 55.47 83.75 111.95 140.09 167.63 196.43 224.53 249.85 280.63">0x1400260E8</text>
<text transform="translate(108.24,662.65) scale(0.9514,1)" font-size="45.83" stroke="#000" stroke-width="0.50" x="1.19 29.27 54.78 82.79 110.70 138.57 165.83 194.24 222.11 249.97 277.89">0x140027470</text>
<text transform="translate(110.78,475.30) scale(0.9384,1)" font-size="45.83" stroke="#000" stroke-width="0.50" x="1.38 29.83 55.72 84.11 112.41 140.66 168.30 197.17 225.36 250.93 279.21">0x1400287F8</text>
<text transform="translate(106.16,287.95) scale(0.9519,1)" font-size="45.83" stroke="#000" stroke-width="0.50" x="1.18 29.25 54.74 82.74 110.64 138.49 165.73 194.02 220.47 252.07 279.92">0x140029B80</text>
</svg>
</body></html>
